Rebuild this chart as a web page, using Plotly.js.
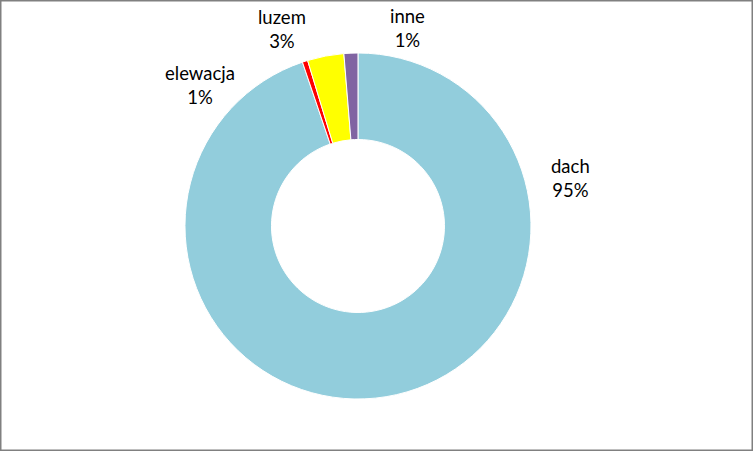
<!DOCTYPE html>
<html>
<head>
<meta charset="utf-8">
<script src="https://cdn.plot.ly/plotly-3.0.1.min.js"></script>
<style>
  html, body { margin: 0; padding: 0; background: #ffffff; }
  #chart { width: 753px; height: 451px; }
</style>
</head>
<body>
<div id="chart"></div>
<script>
const categories = ["dach", "elewacja", "luzem", "inne"];
const shares = [94.8, 0.5, 3.4, 1.3];
const sliceColors = ["#92cddc", "#ff0000", "#ffff00", "#8064a2"];

// label block centres in px from the top-left corner
const labelPos = [[570, 178], [200, 85], [282, 29], [407, 28]];

const W = 753, H = 451;
const total = shares.reduce((a, b) => a + b, 0);

const trace = {
  type: "pie",
  labels: categories,
  values: shares,
  sort: false,
  direction: "clockwise",
  rotation: 0,
  hole: 0.5,
  marker: { colors: sliceColors, line: { color: "#ffffff", width: 1 } },
  textinfo: "none",
  domain: { x: [0.1754, 0.7754], y: [0.1153, 0.8825] },
  showlegend: false,
  hoverinfo: "label+percent",
};

const annotations = categories.map((c, i) => ({
  text: c + "<br>" + Math.round((shares[i] / total) * 100) + "%",
  xref: "paper", yref: "paper",
  x: labelPos[i][0] / W,
  y: 1 - labelPos[i][1] / H,
  xanchor: "center", yanchor: "middle",
  showarrow: false,
  font: { family: "Lato, 'Open Sans', sans-serif", size: 18.5, color: "#000000" },
}));

const layout = {
  width: W,
  height: H,
  margin: { l: 0, r: 0, t: 0, b: 0 },
  paper_bgcolor: "#ffffff",
  font: { family: "Lato, 'Open Sans', sans-serif", size: 18, color: "#000000" },
  annotations: annotations,
  shapes: [{
    type: "rect",
    xref: "paper", yref: "paper",
    x0: 0, x1: 1, y0: 0, y1: 1,
    line: { color: "#808080", width: 3 },
  }],
};

Plotly.newPlot("chart", [trace], layout, { displayModeBar: false, staticPlot: true });
</script>
</body>
</html>
